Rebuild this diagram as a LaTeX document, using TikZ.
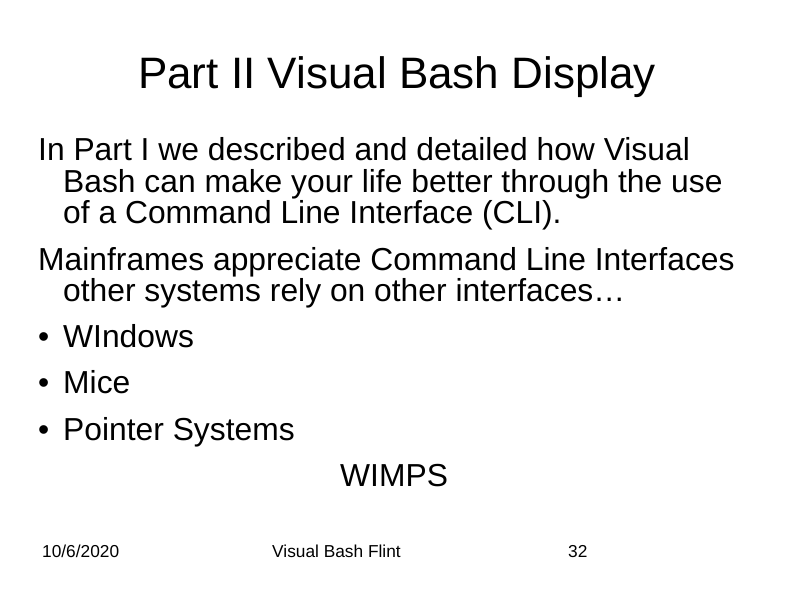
\documentclass[tikz,border=0pt]{standalone}
\usepackage{fontspec}
\setmainfont{Liberation Sans}
\begin{document}
\begin{tikzpicture}[x=1pt,y=-1pt,
  body/.style={anchor=base west,inner sep=0pt,font=\fontsize{31.8}{36}\selectfont},
  foot/.style={anchor=base west,inner sep=0pt,font=\fontsize{17.3}{20}\selectfont}]
\useasboundingbox[fill=white] (0,0) rectangle (794,595);
\node[anchor=base,inner sep=0pt,font=\fontsize{44}{50}\selectfont] (title) at (397,88) {Part II Visual Bash Display};
\node[body] (l1) at (38,160) {In Part I we described and detailed how Visual};
\node[body] (l2) at (63,192) {Bash can make your life better through the use};
\node[body] (l3) at (63,223) {of a Command Line Interface (CLI).};
\node[body] (l4) at (38,270) {Mainframes appreciate Command Line Interfaces};
\node[body] (l5) at (63,301) {other systems rely on other interfaces\dots};
\node[body] (b1) at (38,347) {•};
\node[body] (l6) at (63,347) {WIndows};
\node[body] (b2) at (38,393) {•};
\node[body] (l7) at (63,393) {Mice};
\node[body] (b3) at (38,440) {•};
\node[body] (l8) at (63,440) {Pointer Systems};
\node[body] (l9) at (340,486) {WIMPS};
\node[foot] (f1) at (42,557) {10/6/2020};
\node[foot] (f2) at (272,557) {Visual Bash Flint};
\node[foot] (f3) at (568,557) {32};
\end{tikzpicture}
\end{document}
